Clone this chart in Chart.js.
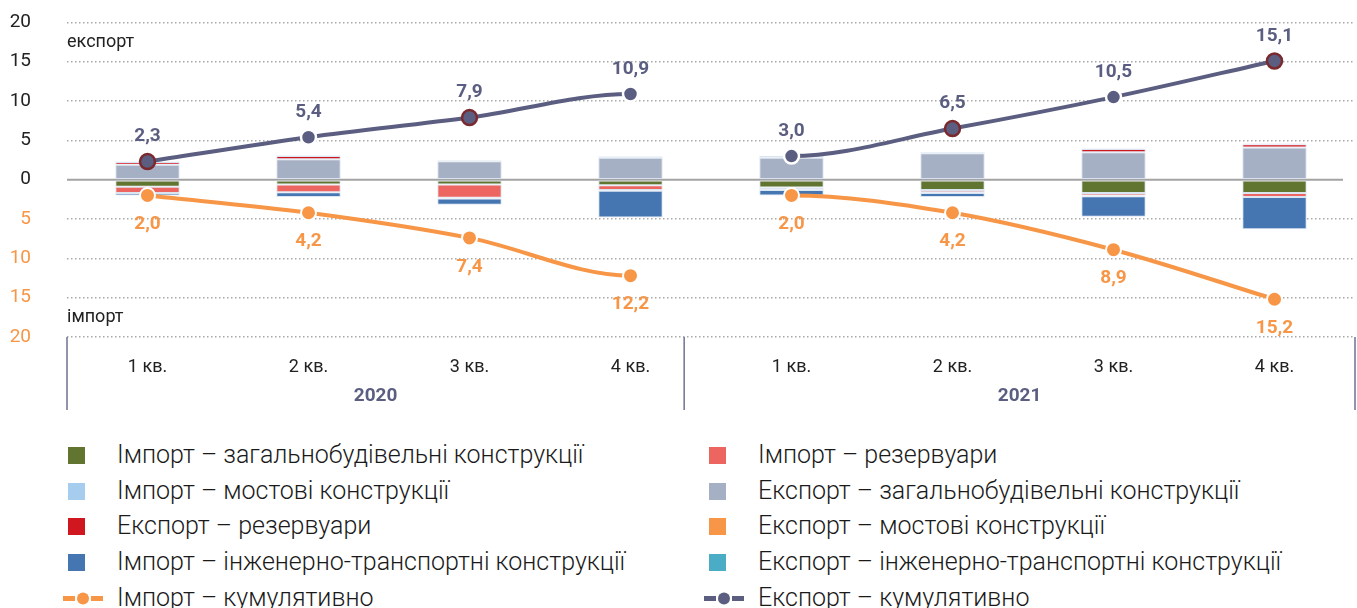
<!DOCTYPE html>
<html>
<head>
<meta charset="utf-8">
<script src="https://cdn.jsdelivr.net/npm/chart.js@4"></script>
<style>
  html, body { margin: 0; padding: 0; background: #fff; }
  body { width: 1357px; height: 608px; overflow: hidden; position: relative; font-family: Roboto, sans-serif; }
  #chart-wrap { position: absolute; left: 0; top: -25px; width: 1365px; height: 445px; }
  #legend { position: absolute; left: 0; top: 438px; width: 1357px; }
  .item { position: absolute; height: 34px; line-height: 34px; font-size: 25px; font-weight: 300; color: #1a1a1a; white-space: nowrap; }
  .item .box { position: absolute; top: 9px; width: 17px; height: 17px; }
  .item .txt { position: absolute; }
  .item svg { position: absolute; top: 9px; }
</style>
</head>
<body>
<div id="chart-wrap"><canvas id="myChart" width="1365" height="445"></canvas></div>
<div id="legend"></div>
<script>
let ctx = document.getElementById("myChart").getContext("2d")

// Tick labels
let quarters = ["1 кв.", "2 кв.", "3 кв.", "4 кв.", "1 кв.", "2 кв.", "3 кв.", "4 кв."]
let years = ["2020", "2021"]

// Import by type, bln (drawn below zero)
let importGeneral = [0.9, 0.6, 0.6, 0.7, 1.0, 1.3, 1.7, 1.7]
let importReservoirs = [0.8, 1.0, 1.7, 0.6, 0.2, 0.3, 0.3, 0.5]
let importBridges = [0.0, 0.0, 0.1, 0.1, 0.1, 0.1, 0.1, 0.0]
let importEngineering = [0.3, 0.6, 0.8, 3.4, 0.7, 0.5, 2.6, 4.1]

// Export by type
let exportGeneral = [1.9, 2.6, 2.35, 2.8, 2.8, 3.35, 3.5, 4.1]
let exportReservoirs = [0.35, 0.4, 0.1, 0.1, 0.1, 0.15, 0.4, 0.4]
let exportBridges = [0.0, 0.05, 0.05, 0.05, 0.0, 0.0, 0.05, 0.05]
let exportEngineering = [0.05, 0.05, 0.0, 0.05, 0.1, 0.0, 0.05, 0.05]

// Cumulative totals
let importCumulative = [2.0, 4.2, 7.4, 12.2, 2.0, 4.2, 8.9, 15.2]
let exportCumulative = [2.3, 5.4, 7.9, 10.9, 3.0, 6.5, 10.5, 15.1]

let exportColor = "#5b5e80"
let importColor = "#f79646"
let exportPointBorders = ["#7a2a2e", "#fff", "#7a2a2e", "#fff", "#fff", "#7a2a2e", "#fff", "#7a2a2e"]

// bar series with colors, in stacking order
let barSeries = [
	{label: "Імпорт – загальнобудівельні конструкції", data: importGeneral, color: "#617530", sign: -1},
	{label: "Імпорт – резервуари", data: importReservoirs, color: "#ec6560", sign: -1},
	{label: "Імпорт – мостові конструкції", data: importBridges, color: "#a7cdee", sign: -1},
	{label: "Імпорт – інженерно-транспортні конструкції", data: importEngineering, color: "#4676b2", sign: -1},
	{label: "Експорт – загальнобудівельні конструкції", data: exportGeneral, color: "#a6b0c4", sign: 1},
	{label: "Експорт – резервуари", data: exportReservoirs, color: "#d0161f", sign: 1},
	{label: "Експорт – мостові конструкції", data: exportBridges, color: "#f79646", sign: 1},
	{label: "Експорт – інженерно-транспортні конструкції", data: exportEngineering, color: "#4bacc6", sign: 1},
]

function fmt(v) {
	return v.toFixed(1).replace(".", ",")
}

// no line between 4 кв. 2020 and 1 кв. 2021
let hideGap = c => c.p0DataIndex === 3 ? "rgba(0,0,0,0)" : undefined

let datasets = barSeries.map(function (s) {
	return {
		type: "bar",
		label: s.label,
		data: s.data.map(v => v * s.sign),
		backgroundColor: s.color,
		borderColor: "rgba(214,226,240,0.9)",
		borderWidth: 1,
		borderSkipped: false,
		stack: "bars",
		order: 2,
		barPercentage: 0.4,
		categoryPercentage: 1,
	}
})

datasets.push({
	type: "line",
	label: "Експорт – кумулятивно",
	data: exportCumulative,
	borderColor: exportColor,
	borderWidth: 4,
	cubicInterpolationMode: "monotone",
	pointRadius: 7.5,
	pointBackgroundColor: exportColor,
	pointBorderColor: exportPointBorders,
	pointBorderWidth: 2.5,
	segment: {borderColor: hideGap},
	stack: "exp",
	order: 0,
	labelPos: -25,
	labelColor: exportColor,
	labels: exportCumulative,
})

datasets.push({
	type: "line",
	label: "Імпорт – кумулятивно",
	data: importCumulative.map(v => -v),
	borderColor: importColor,
	borderWidth: 4,
	cubicInterpolationMode: "monotone",
	pointRadius: 7.5,
	pointBackgroundColor: importColor,
	pointBorderColor: "#fff",
	pointBorderWidth: 2,
	segment: {borderColor: hideGap},
	stack: "imp",
	order: 1,
	labelPos: 29,
	labelColor: importColor,
	labels: importCumulative,
})

// zero line, year labels, separators, side captions
let decorPlugin = {
	id: "decor",
	beforeDatasetsDraw(chart) {
		let c = chart.ctx
		let area = chart.chartArea
		let y0 = chart.scales.y.getPixelForValue(0)
		c.save()
		c.strokeStyle = "#a3a3a3"
		c.lineWidth = 2
		c.beginPath()
		c.moveTo(area.left, y0)
		c.lineTo(area.right - 12, y0)
		c.stroke()
		c.restore()
	},
	afterDraw(chart) {
		let c = chart.ctx
		let area = chart.chartArea
		let x = chart.scales.x
		let y = chart.scales.y
		let step = x.getPixelForValue(1) - x.getPixelForValue(0)
		let mid = x.getPixelForValue(3) + step / 3
		let seps = [area.left, mid, area.right]
		c.save()
		c.strokeStyle = "#6e7193"
		c.lineWidth = 1.5
		seps.forEach(function (sx) {
			c.beginPath()
			c.moveTo(sx, area.bottom)
			c.lineTo(sx, area.bottom + 73)
			c.stroke()
		})
		c.fillStyle = exportColor
		c.font = "bold 19px Roboto"
		c.textAlign = "center"
		c.textBaseline = "middle"
		c.fillText(years[0], (seps[0] + seps[1]) / 2, area.bottom + 59)
		c.fillText(years[1], (seps[1] + seps[2]) / 2, area.bottom + 59)

		c.fillStyle = "#222"
		c.font = "18px Roboto"
		c.textAlign = "left"
		c.fillText("експорт", area.left, y.getPixelForValue(17.5))
		c.fillText("імпорт", area.left, y.getPixelForValue(-17.5))
		c.restore()
	},
	afterDatasetsDraw(chart) {
		let c = chart.ctx
		c.save()
		c.font = "bold 19px Roboto"
		c.textAlign = "center"
		c.textBaseline = "middle"
		chart.data.datasets.forEach(function (ds, i) {
			if (ds.type !== "line") return
			let meta = chart.getDatasetMeta(i)
			c.fillStyle = ds.labelColor
			meta.data.forEach(function (pt, j) {
				c.fillText(fmt(ds.labels[j]), pt.x, pt.y + ds.labelPos)
			})
		})
		c.restore()
	}
}

let config = {
	data: {
		labels: quarters,
		datasets: datasets,
	},
	options: {
		responsive: false,
		animation: false,
		layout: {padding: {top: 20, right: 2, left: 0, bottom: 0}},
		plugins: {
			legend: {display: false},
			tooltip: {enabled: false},
		},
		scales: {
			x: {
				stacked: true,
				grid: {display: false},
				border: {display: false},
				ticks: {
					color: "#222",
					padding: 12,
					font: {size: 18, family: "Roboto"},
				},
				afterFit(scale) { scale.height = 83 },
			},
			y: {
				stacked: true,
				min: -20,
				max: 20,
				border: {display: false, dash: [1.5, 2.5]},
				grid: {
					drawTicks: false,
					lineWidth: 1.5,
					color: c => c.tick && c.tick.value === 0 ? "rgba(0,0,0,0)" : "#a8a8a8",
				},
				ticks: {
					stepSize: 5,
					padding: 36,
					font: {size: 19, family: "Roboto"},
					color: c => c.tick && c.tick.value < 0 ? importColor : "#222",
					callback: v => Math.abs(v),
				},
				afterFit(scale) { scale.width = 67 },
			},
		},
	},
	plugins: [decorPlugin],
}

let myChart = new Chart(ctx, config)

// Legend built from the series
let legendItems = [
	{label: barSeries[0].label, color: barSeries[0].color},
	{label: barSeries[1].label, color: barSeries[1].color},
	{label: barSeries[2].label, color: barSeries[2].color},
	{label: barSeries[4].label, color: barSeries[4].color},
	{label: barSeries[5].label, color: barSeries[5].color},
	{label: barSeries[6].label, color: barSeries[6].color},
	{label: barSeries[3].label, color: barSeries[3].color},
	{label: barSeries[7].label, color: barSeries[7].color},
	{label: "Імпорт – кумулятивно", color: importColor, line: true},
	{label: "Експорт – кумулятивно", color: exportColor, line: true},
]

let legend = document.getElementById("legend")
legendItems.forEach(function (item, i) {
	let col = i % 2
	let row = Math.floor(i / 2)
	let el = document.createElement("div")
	el.className = "item"
	el.style.left = (col === 0 ? 68 : 709) + "px"
	el.style.top = (row * 35.7) + "px"
	let icon
	if (item.line) {
		icon = `<svg width="40" height="17" style="left:-5px"><line x1="0" y1="8.5" x2="12" y2="8.5" stroke="${item.color}" stroke-width="5"/><line x1="28" y1="8.5" x2="40" y2="8.5" stroke="${item.color}" stroke-width="5"/><circle cx="20" cy="8.5" r="6" fill="${item.color}"/></svg>`
	} else {
		icon = `<span class="box" style="background:${item.color}"></span>`
	}
	el.innerHTML = `${icon}<span class="txt" style="left:49px">${item.label}</span>`
	legend.appendChild(el)
})
</script>
</body>
</html>
